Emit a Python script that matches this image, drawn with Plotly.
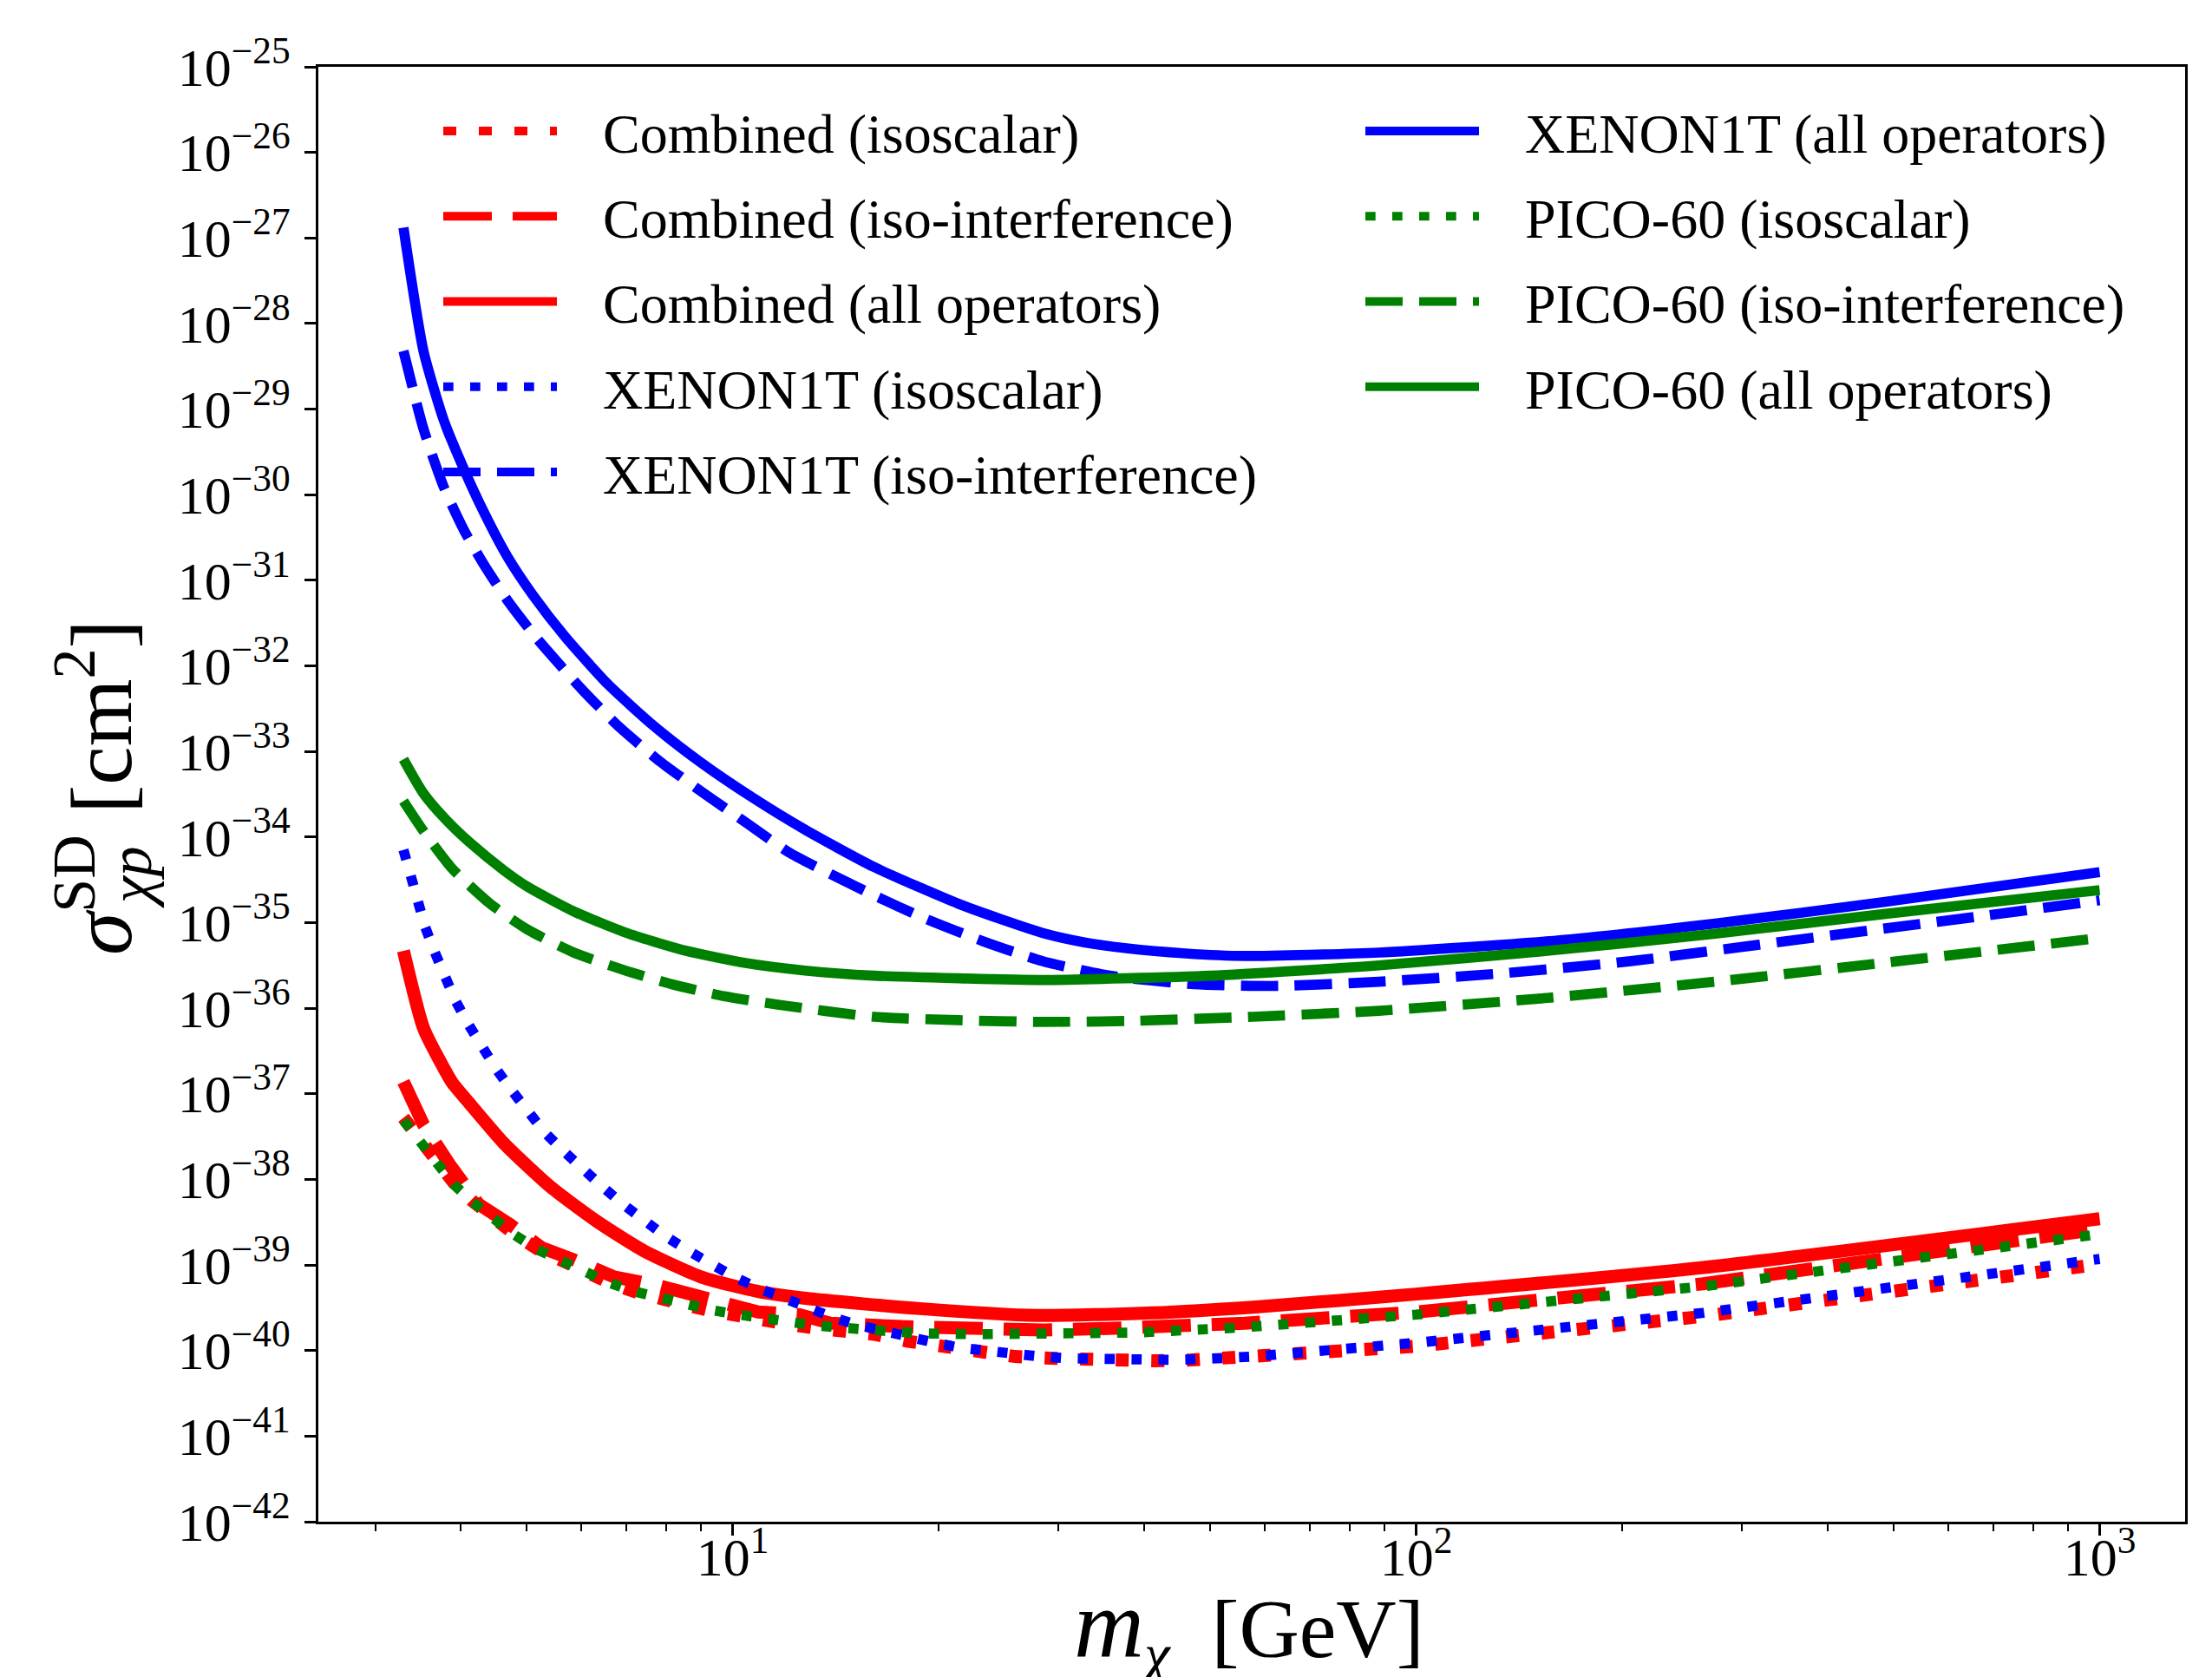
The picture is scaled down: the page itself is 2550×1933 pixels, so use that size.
import plotly.graph_objects as go

# ---------------- data ----------------
# masses in GeV, cross sections as log10(sigma / cm^2)
comb_iso_m = [3.3, 3.49, 3.69, 3.91, 4.16, 4.46, 4.80, 5.18, 5.61, 6.09, 6.61, 7.18, 7.84, 8.56,
              9.35, 10.2, 11.1, 12.2, 13.3, 16.1, 18.0, 20.4, 22.9, 25.9, 29.1, 32.8, 36.9, 41.7,
              46.9, 52.9, 100, 263, 1000]
comb_iso_s = [-37.28, -37.55, -37.80, -38.04, -38.25, -38.45, -38.64, -38.81, -38.95, -39.09,
              -39.21, -39.31, -39.40, -39.47, -39.54, -39.60, -39.65, -39.70, -39.74, -39.81,
              -39.89, -39.96, -40.01, -40.07, -40.09, -40.11, -40.12, -40.12, -40.11, -40.09,
              -39.95, -39.60, -38.99]

comb_int_m = [3.3, 3.53, 3.85, 4.25, 4.73, 5.26, 5.86, 6.71, 7.77, 8.99, 10.9, 12.5, 13.9, 17.7,
              22.5, 28.5, 36.2, 45.9, 56.1, 100, 263, 1000]
comb_int_s = [-36.86, -37.36, -37.82, -38.29, -38.53, -38.80, -38.94, -39.14, -39.24, -39.38,
              -39.55, -39.58, -39.68, -39.72, -39.75, -39.76, -39.74, -39.71, -39.68, -39.55,
              -39.22, -38.58]

comb_all_m = [3.3, 3.53, 3.78, 3.89, 4.12, 4.63, 5.42, 6.33, 7.40, 8.99, 10.9, 12.8, 18.8, 27.8,
              41.1, 58.3, 100, 263, 1000]
comb_all_s = [-35.33, -36.23, -36.70, -36.87, -37.11, -37.58, -38.09, -38.49, -38.83, -39.14,
              -39.31, -39.39, -39.51, -39.59, -39.56, -39.49, -39.34, -39.03, -38.46]

xe_iso_m = [3.3, 3.38, 3.46, 3.55, 3.66, 3.78, 3.93, 4.10, 4.29, 4.50, 4.75, 5.01, 5.31, 5.66,
            6.03, 6.46, 6.91, 7.40, 7.96, 8.60, 9.30, 10.05, 10.9, 11.86, 12.9, 14.0, 15.2, 16.6,
            18.1, 19.8, 21.6, 23.6, 25.9, 28.2, 30.8, 33.8, 36.9, 40.3, 44.2, 48.2, 52.9, 57.8,
            100, 263, 1000]
xe_iso_s = [-34.15, -34.46, -34.74, -35.05, -35.33, -35.62, -35.91, -36.18, -36.45, -36.70,
            -36.96, -37.21, -37.45, -37.67, -37.89, -38.09, -38.29, -38.48, -38.66, -38.83,
            -38.99, -39.14, -39.27, -39.39, -39.51, -39.61, -39.70, -39.78, -39.85, -39.91,
            -39.97, -40.01, -40.04, -40.07, -40.09, -40.10, -40.11, -40.11, -40.11, -40.10,
            -40.09, -40.07, -39.91, -39.56, -38.93]

xe_int_m = [3.3, 3.53, 3.78, 4.05, 4.33, 4.68, 5.16, 6.03, 6.84, 7.84, 9.08, 10.5, 12.15, 16.1,
            19.1, 23.3, 28.4, 35.6, 47.3, 62.8, 88.2, 135, 206, 316, 483, 678, 1000]
xe_int_s = [-28.32, -29.23, -29.91, -30.42, -30.82, -31.23, -31.67, -32.28, -32.72, -33.12,
            -33.49, -33.84, -34.19, -34.68, -34.95, -35.22, -35.45, -35.62, -35.72, -35.74,
            -35.69, -35.59, -35.45, -35.26, -35.07, -34.92, -34.74]

xe_all_m = [3.3, 3.53, 3.78, 4.05, 4.33, 4.68, 5.11, 5.69, 6.58, 7.69, 8.99, 10.7, 12.8, 16.1,
            21.4, 24.7, 28.4, 32.7, 37.7, 46.0, 56.1, 88.2, 155, 274, 483, 1000]
xe_all_s = [-26.88, -28.32, -29.13, -29.71, -30.21, -30.72, -31.18, -31.66, -32.22, -32.71,
            -33.13, -33.54, -33.92, -34.35, -34.78, -34.96, -35.12, -35.23, -35.30, -35.36,
            -35.39, -35.35, -35.22, -35.01, -34.76, -34.41]

pico_iso_m = [3.3, 3.49, 3.69, 3.91, 4.16, 4.46, 4.80, 5.18, 5.61, 6.09, 6.61, 7.18, 7.84, 8.56,
              9.35, 10.2, 11.1, 12.2, 13.3, 16.0, 19.0, 22.7, 27.3, 32.5, 38.9, 46.6, 55.6, 100,
              263, 1000]
pico_iso_s = [-37.31, -37.57, -37.82, -38.06, -38.26, -38.46, -38.65, -38.82, -38.95, -39.09,
              -39.21, -39.31, -39.39, -39.46, -39.53, -39.58, -39.63, -39.67, -39.71, -39.76,
              -39.80, -39.81, -39.81, -39.81, -39.79, -39.76, -39.73, -39.58, -39.25, -38.64]

pico_int_m = [3.3, 3.53, 3.89, 4.42, 5.01, 5.86, 6.91, 8.15, 9.72, 11.7, 16.1, 21.4, 28.4, 37.7,
              57.7, 88.2, 155.5, 274, 483, 1000]
pico_int_s = [-33.58, -33.93, -34.37, -34.78, -35.08, -35.35, -35.55, -35.72, -35.86, -35.96,
              -36.10, -36.14, -36.16, -36.15, -36.10, -36.03, -35.88, -35.69, -35.47, -35.18]

pico_all_m = [3.3, 3.53, 3.81, 4.12, 4.63, 5.01, 5.86, 7.05, 8.56, 10.4, 12.76, 16.1, 21.4, 28.4,
              50.1, 88.2, 155.5, 274, 483, 1000]
pico_all_s = [-33.09, -33.49, -33.80, -34.06, -34.39, -34.58, -34.87, -35.13, -35.33, -35.47,
              -35.56, -35.62, -35.65, -35.67, -35.62, -35.50, -35.33, -35.13, -34.90, -34.62]

labels = ["Combined (isoscalar)", "Combined (iso-interference)", "Combined (all operators)",
          "XENON1T (isoscalar)", "XENON1T (iso-interference)", "XENON1T (all operators)",
          "PICO-60 (isoscalar)", "PICO-60 (iso-interference)", "PICO-60 (all operators)"]

y_tick_exponents = list(range(-42, -24))
x_tick_vals = [10, 100, 1000]
x_tick_text = ["10<sup>1</sup>", "10<sup>2</sup>", "10<sup>3</sup>"]
x_minor_vals = [3, 4, 5, 6, 7, 8, 9, 20, 30, 40, 50, 60, 70, 80, 90,
                200, 300, 400, 500, 600, 700, 800, 900]

# ---------------- styling ----------------
RED, BLUE, GREEN = "#ff0000", "#0000ff", "#008000"
W_RED, W_OTH = 15, 11.7
DOT_RED, DASH_RED = "15px,26px", "56px,24px"
DOT_OTH, DASH_OTH = "11.7px,19.3px", "43px,19px"
FONT = "Liberation Serif"
GAP = "\u00a0\u00a0\u00a0"

series = [
    (comb_iso_m, comb_iso_s, RED, W_RED, DOT_RED, "legend", "linear"),
    (comb_int_m, comb_int_s, RED, W_RED, DASH_RED, "legend", "linear"),
    (comb_all_m, comb_all_s, RED, W_RED, "solid", "legend", "spline"),
    (xe_iso_m, xe_iso_s, BLUE, W_OTH, DOT_OTH, "legend", "linear"),
    (xe_int_m, xe_int_s, BLUE, W_OTH, DASH_OTH, "legend", "spline"),
    (xe_all_m, xe_all_s, BLUE, W_OTH, "solid", "legend2", "spline"),
    (pico_iso_m, pico_iso_s, GREEN, W_OTH, DOT_OTH, "legend2", "linear"),
    (pico_int_m, pico_int_s, GREEN, W_OTH, DASH_OTH, "legend2", "spline"),
    (pico_all_m, pico_all_s, GREEN, W_OTH, "solid", "legend2", "spline"),
]

fig = go.Figure()
for i, (m, s, col, w, dash, leg, shape) in enumerate(series):
    line = dict(color=col, width=w, dash=dash, shape=shape)
    if shape == "spline":
        line["smoothing"] = 0.6
    fig.add_trace(go.Scatter(
        x=m, y=[10 ** v for v in s], mode="lines", name=GAP + labels[i],
        line=line, legend=leg, legendgroup=f"g{i}", showlegend=True))

L, R, T, B = 359, 2511, 69, 1746
PW, PH = R - L, B - T


def px(xp):
    return (xp - L) / PW


def py(yp):
    return (B - yp) / PH


leg_common = dict(xanchor="left", yanchor="top", bgcolor="rgba(0,0,0,0)", borderwidth=0,
                  font=dict(family=FONT, size=64, color="black"), itemwidth=131,
                  tracegroupgap=12, traceorder="grouped")

fig.update_layout(
    width=2550, height=1933,
    margin=dict(l=L, r=2550 - R, t=T, b=1933 - B, autoexpand=False),
    paper_bgcolor="white", plot_bgcolor="white",
    font=dict(family=FONT, color="black"),
    legend=dict(x=px(498), y=py(95), **leg_common),
    legend2=dict(x=px(1561), y=py(95), **leg_common),
    xaxis=dict(type="log", range=[0.394, 3.125], showgrid=False, zeroline=False,
               showline=True, linecolor="black", linewidth=3, mirror=True,
               ticks="outside", ticklen=13, tickwidth=3, tickcolor="black",
               tickmode="array", tickvals=x_tick_vals, ticktext=x_tick_text,
               ticklabelstandoff=-28,
               tickfont=dict(family=FONT, size=62, color="black"),
               minor=dict(tickmode="array", tickvals=x_minor_vals, ticks="outside",
                          ticklen=8, tickwidth=2, tickcolor="black", showgrid=False)),
    yaxis=dict(type="log", range=[-42, -25], showgrid=False, zeroline=False,
               showline=True, linecolor="black", linewidth=3, mirror=True,
               ticks="outside", ticklen=13, tickwidth=3, tickcolor="black",
               tickmode="array", tickvals=[10.0 ** e for e in y_tick_exponents],
               ticktext=[f"10<sup>\u2212{-e}</sup>" for e in y_tick_exponents],
               ticklabelstandoff=4,
               tickfont=dict(family=FONT, size=62, color="black")),
)

# axis titles (as text annotations for exact placement)
fig.add_annotation(
    text="<i><span style='font-size:112px'>m</span></i><sub><i>\u03c7</i></sub>"
         "\u00a0\u00a0[GeV]",
    xref="paper", yref="paper", x=px(1432), y=py(1800), xanchor="center", yanchor="top",
    showarrow=False, font=dict(family=FONT, size=96, color="black"))
fig.add_annotation(text="<i>\u03c3</i><sup>SD</sup>", xref="paper", yref="paper",
                   x=px(102), y=py(1024), xanchor="center", yanchor="middle", showarrow=False,
                   textangle=-90, font=dict(family=FONT, size=100, color="black"))
fig.add_annotation(text="<i>\u03c7p</i>", xref="paper", yref="paper",
                   x=px(143), y=py(1003), xanchor="center", yanchor="middle", showarrow=False,
                   textangle=-90, font=dict(family=FONT, size=70, color="black"))
fig.add_annotation(text="[cm<sup>2</sup>]", xref="paper", yref="paper",
                   x=px(102), y=py(818), xanchor="center", yanchor="middle", showarrow=False,
                   textangle=-90, font=dict(family=FONT, size=100, color="black"))

fig.write_html("out.html")
